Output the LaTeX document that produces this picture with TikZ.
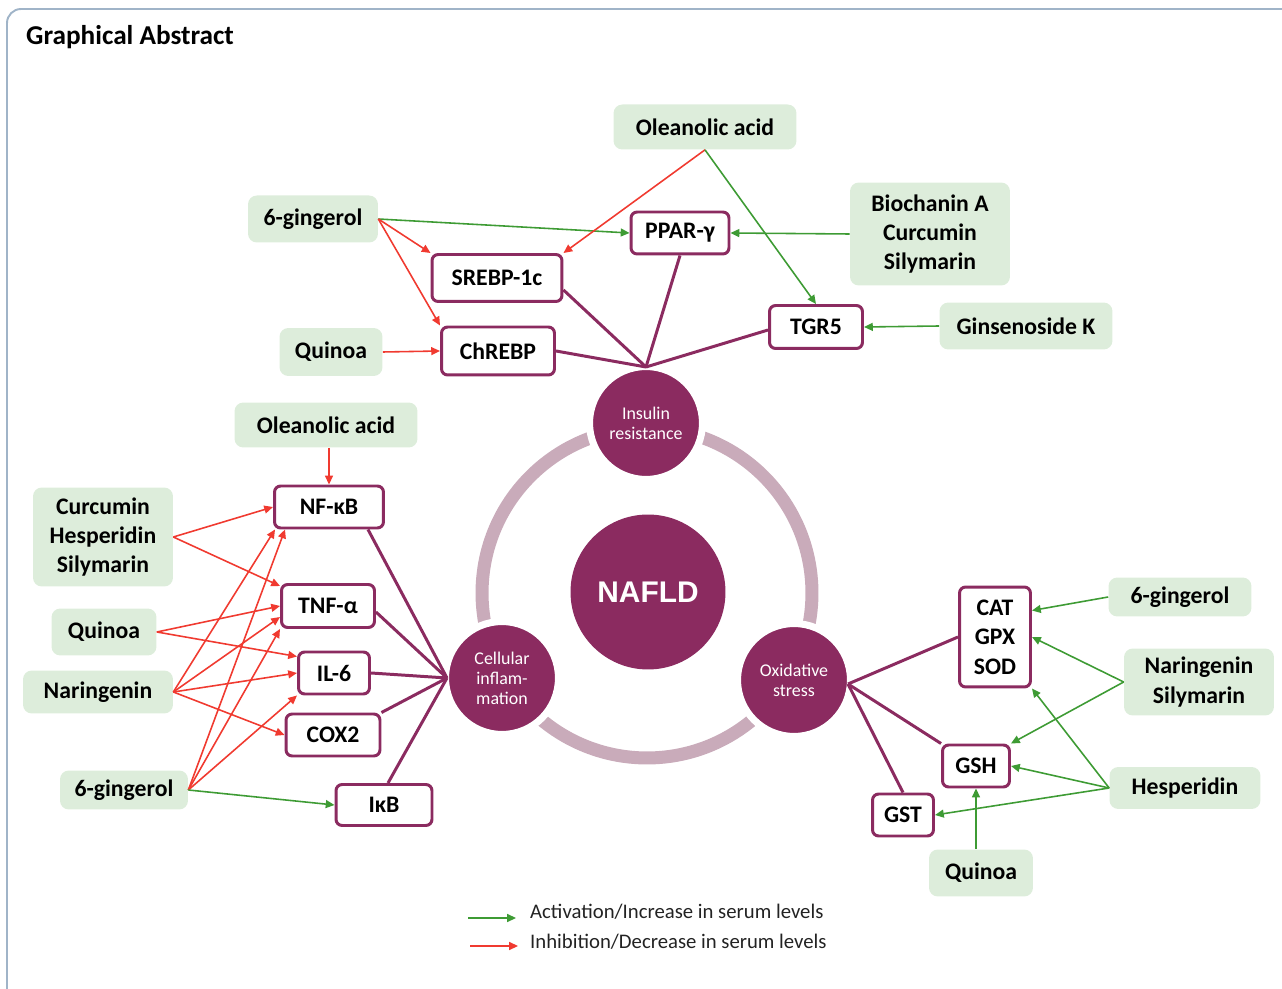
\documentclass[tikz,border=0pt]{standalone}
\usepackage{fontspec}
\setmainfont{Carlito}
\newfontfamily\heavyfont{Liberation Sans}
\usetikzlibrary{arrows.meta,positioning}

\definecolor{berry}{RGB}{139,43,96}
\definecolor{ringc}{RGB}{201,171,186}
\definecolor{leaf}{RGB}{221,237,219}
\definecolor{upc}{RGB}{62,155,52}
\definecolor{downc}{RGB}{240,58,48}
\definecolor{framec}{RGB}{160,180,200}
\definecolor{keyc}{RGB}{35,35,35}

\begin{document}
\begin{tikzpicture}[x=0.02cm, y=-0.02cm, font=\bfseries\fontsize{13.5}{16.7}\selectfont]
    \tikzstyle{drug} = [rectangle, fill=leaf, rounded corners=5pt, align=center, inner sep=0pt]
    \tikzstyle{target} = [rectangle, draw=berry, line width=1.7pt, fill=white, rounded corners=3.5pt, align=center, inner sep=0pt]
    \tikzstyle{stage} = [circle, fill=berry, draw=white, line width=4pt, minimum size=2.26cm, inner sep=0pt, text=white, align=center, font=\fontsize{10.2}{11.3}\selectfont]
    \tikzstyle{link} = [draw=berry, line width=1.7pt]
    \tikzstyle{act} = [-{Triangle[length=5pt,width=4.5pt]}, color=upc, line width=0.9pt]
    \tikzstyle{inh} = [-{Triangle[length=5pt,width=4.5pt]}, color=downc, line width=0.9pt]
    \tikzstyle{key} = [anchor=west, text=keyc, font=\fontsize{11.8}{13}\selectfont]

    \useasboundingbox (0,0) rectangle (1282,989);
    \draw[framec, line width=1.1pt, rounded corners=8pt] (7,1000) -- (7,9) -- (1300,9);
    \node[anchor=west, font=\bfseries\fontsize{15.5}{18}\selectfont] (title) at (20,37) {Graphical Abstract};

    % ring and the three hallmarks
    \draw[ringc, line width=7.4pt] (647,593) circle [radius=3.3cm];
    \node[stage, draw=none, minimum size=3.1cm, font=\heavyfont\bfseries\fontsize{17}{20}\selectfont] (nafld) at (648,592) {NAFLD};
    \node[stage] (ins) at (646,423) {Insulin\\resistance};
    \node[stage] (cell) at (502,678) {Cellular\\inflam-\\mation};
    \node[stage] (ox) at (794,680) {Oxidative\\stress};

    % insulin resistance
    \node[target, minimum width=1.96cm, minimum height=0.84cm] (ppar) at (680,233) {PPAR-γ};
    \node[target, minimum width=2.6cm, minimum height=0.94cm] (srebp) at (497,278) {SREBP-1c};
    \node[target, minimum width=2.26cm, minimum height=0.96cm] (chrebp) at (498,351) {ChREBP};
    \node[target, minimum width=1.86cm, minimum height=0.86cm] (tgr5) at (816,327) {TGR5};
    \node[drug, minimum width=3.66cm, minimum height=0.9cm] (olea1) at (705,127) {Oleanolic acid};
    \node[drug, minimum width=2.6cm, minimum height=0.94cm] (ging1) at (313,219) {6-gingerol};
    \node[drug, minimum width=3.2cm, minimum height=2.06cm] (bio) at (930,234) {Biochanin A\\Curcumin\\Silymarin};
    \node[drug, minimum width=3.46cm, minimum height=0.94cm] (gins) at (1026,326) {Ginsenoside K};
    \node[drug, minimum width=2.06cm, minimum height=0.96cm] (quin1) at (331,352) {Quinoa};

    \draw[link] ([yshift=-0.24cm]srebp.east) -- ([yshift=-0.08cm]ins.north);
    \draw[link] (chrebp.east) -- ([yshift=-0.08cm]ins.north);
    \draw[link] (ppar.south) -- ([yshift=-0.08cm]ins.north);
    \draw[link] ([yshift=-0.06cm]tgr5.west) -- ([yshift=-0.08cm]ins.north);

    \draw[act] (ging1.east) -- (ppar.west);
    \draw[inh] (ging1.east) -- (srebp.north west);
    \draw[inh] (ging1.east) -- (chrebp.north west);
    \draw[inh] (olea1.south) -- (srebp.north east);
    \draw[act] (olea1.south) -- (tgr5.north);
    \draw[act] (bio.west) -- (ppar.east);
    \draw[act] (gins.west) -- (tgr5.east);
    \draw[inh] (quin1.east) -- (chrebp.west);

    % cellular inflammation
    \node[target, minimum width=2.18cm, minimum height=0.84cm] (nfkb) at (329,507) {NF-κB};
    \node[target, minimum width=1.86cm, minimum height=0.86cm] (tnf) at (328,606) {TNF-α};
    \node[target, minimum width=1.42cm, minimum height=0.84cm] (il6) at (334,673) {IL-6};
    \node[target, minimum width=1.88cm, minimum height=0.84cm] (cox2) at (333,735) {COX2};
    \node[target, minimum width=1.92cm, minimum height=0.82cm] (ikb) at (384,805) {IκB};
    \node[drug, minimum width=3.66cm, minimum height=0.9cm] (olea2) at (326,425) {Oleanolic acid};
    \node[drug, minimum width=2.8cm, minimum height=1.98cm] (cur) at (103,537) {Curcumin\\Hesperidin\\Silymarin};
    \node[drug, minimum width=2.1cm, minimum height=0.94cm] (quin2) at (104,632) {Quinoa};
    \node[drug, minimum width=3.0cm, minimum height=0.86cm] (nar1) at (98,692) {Naringenin};
    \node[drug, minimum width=2.56cm, minimum height=0.78cm] (ging2) at (124,790) {6-gingerol};

    \draw[link] ([xshift=0.78cm]nfkb.south) -- ([xshift=0.1cm]cell.west);
    \draw[link] ([yshift=-0.12cm]tnf.east) -- ([xshift=0.1cm]cell.west);
    \draw[link] (il6.east) -- ([xshift=0.1cm]cell.west);
    \draw[link] (cox2.north east) -- ([xshift=0.1cm]cell.west);
    \draw[link] ([xshift=0.08cm]ikb.north) -- ([xshift=0.1cm]cell.west);

    \draw[inh] (nfkb.north |- olea2.south) -- (nfkb.north);
    \draw[inh] (cur.east) -- (nfkb.west);
    \draw[inh] (cur.east) -- ([yshift=-0.06cm]tnf.north west);
    \draw[inh] (quin2.east) -- (tnf.west);
    \draw[inh] (quin2.east) -- ([yshift=-0.12cm]il6.north west);
    \draw[inh] (nar1.east) -- ([xshift=0.04cm]nfkb.south west);
    \draw[inh] (nar1.east) -- ([yshift=-0.22cm]tnf.west);
    \draw[inh] (nar1.east) -- (il6.west);
    \draw[inh] (nar1.east) -- (cox2.west);
    \draw[inh] (ging2.east) -- ([xshift=0.24cm]nfkb.south west);
    \draw[inh] (ging2.east) -- (tnf.south west);
    \draw[inh] (ging2.east) -- (il6.south west);
    \draw[act] (ging2.east) -- (ikb.west);

    % oxidative stress
    \node[target, minimum width=1.42cm, minimum height=2.0cm] (cat) at (995,637) {CAT\\GPX\\SOD};
    \node[target, minimum width=1.34cm, minimum height=0.84cm] (gsh) at (976,766) {GSH};
    \node[target, minimum width=1.22cm, minimum height=0.84cm] (gst) at (903,815) {GST};
    \node[drug, minimum width=2.86cm, minimum height=0.78cm] (ging3) at (1180,597) {6-gingerol};
    \node[drug, minimum width=3.0cm, minimum height=1.34cm] (nar2) at (1199,682) {Naringenin\\Silymarin};
    \node[drug, minimum width=3.02cm, minimum height=0.84cm] (hes) at (1185,788) {Hesperidin};
    \node[drug, minimum width=2.08cm, minimum height=0.94cm] (quin3) at (981,873) {Quinoa};

    \draw[link] (cat.west) -- ([xshift=-0.12cm,yshift=-0.08cm]ox.east);
    \draw[link] (gsh.north west) -- ([xshift=-0.12cm,yshift=-0.08cm]ox.east);
    \draw[link] (gst.north) -- ([xshift=-0.12cm,yshift=-0.08cm]ox.east);

    \draw[act] (ging3.west) -- ([yshift=-0.5cm]cat.north east);
    \draw[act] (nar2.west) -- (cat.east);
    \draw[act] (nar2.west) -- (gsh.north east);
    \draw[act] (hes.west) -- (cat.south east);
    \draw[act] (hes.west) -- (gsh.east);
    \draw[act] (hes.west) -- (gst.east);
    \draw[act] (gsh.south |- quin3.north) -- (gsh.south);

    % key
    \coordinate (upfrom) at (468,918);
    \coordinate (upto) at (516,918);
    \coordinate (downfrom) at (470,946);
    \coordinate (downto) at (518,946);
    \draw[act] (upfrom) -- (upto);
    \draw[inh] (downfrom) -- (downto);
    \node[key] (upkey) at (524,912) {Activation/Increase in serum levels};
    \node[key] (downkey) at (524,942) {Inhibition/Decrease in serum levels};
\end{tikzpicture}
\end{document}
